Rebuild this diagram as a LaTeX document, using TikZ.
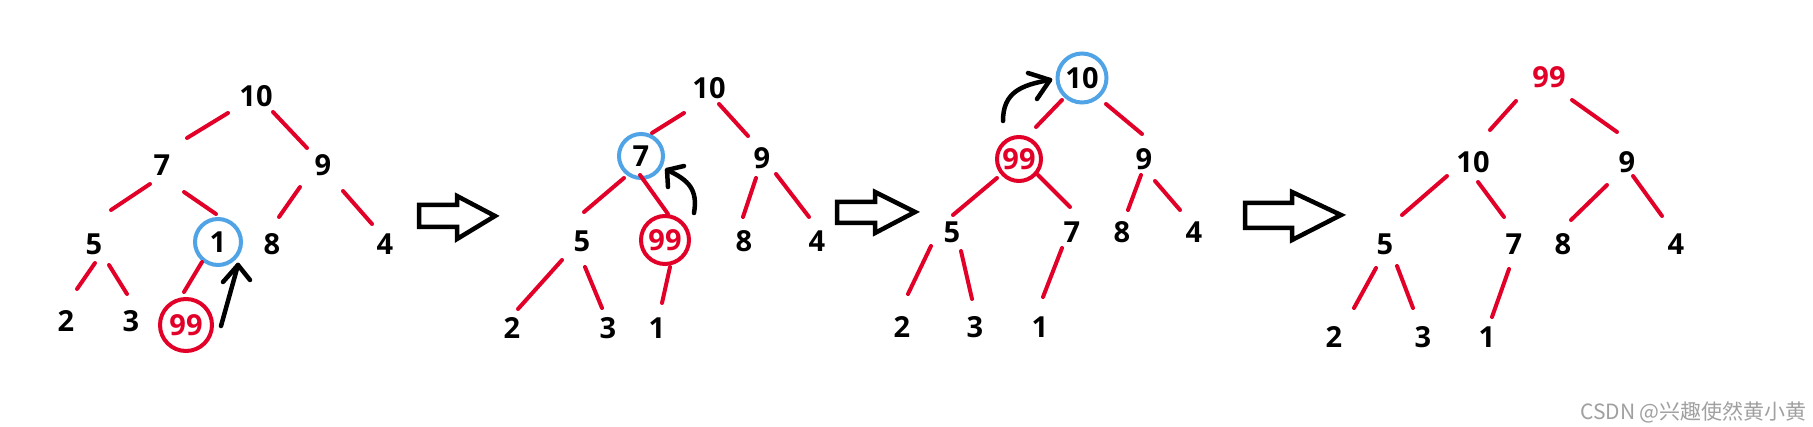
\documentclass[tikz,border=0pt]{standalone}
\usepackage{fontspec}
\setmainfont{Open Sans}
\newfontfamily\cjk{Noto Sans CJK SC}
\usetikzlibrary{calc}
\definecolor{hred}{RGB}{226,0,40}
\definecolor{hblue}{RGB}{80,164,230}
\definecolor{wmgray}{RGB}{160,160,160}
\tikzset{
 num/.style={font=\fontsize{29}{30}\selectfont\bfseries, inner sep=0pt, text=black},
 hot/.style={num, text=hred},
 bluering/.style={circle, draw=hblue, line width=4pt, minimum size=#1},
 redring/.style={circle, draw=hred, line width=4pt, minimum size=#1},
 edge/.style={draw=hred, line width=4pt, line cap=round},
 pointer/.style={draw=black, line width=4.5pt, line cap=round, line join=round},
 bigarrow/.style={draw=black, line width=4.5pt, fill=white, line join=miter},
}
\newcommand\hedge[4]{\draw[edge] ([shift={(#2)}]#1.center) -- ([shift={(#4)}]#3.center);}
\begin{document}
\begin{tikzpicture}[x=1pt,y=-1pt]
\fill[white] (0,0) rectangle (1813,427);
\useasboundingbox (0,0) rectangle (1813,427);

% ---------- panel 1 ----------
\node[num] (p1-10) at (256,96) {10};
\node[num] (p1-7) at (162,165) {7};
\node[num] (p1-9) at (323,165) {9};
\node[num] (p1-5) at (94,244) {5};
\node[num, bluering=46pt] (p1-1) at (218,242) {1};
\node[num] (p1-8) at (272,244) {8};
\node[num] (p1-4) at (385,244) {4};
\node[num] (p1-2) at (66,321) {2};
\node[num] (p1-3) at (131,321) {3};
\node[hot, redring=52pt] (p1-99) at (186,325) {99};
\hedge{p1-10}{-28,17}{p1-7}{25,-27}
\hedge{p1-10}{17,16}{p1-9}{-16,-17}
\hedge{p1-7}{-12,19}{p1-5}{17,-34}
\hedge{p1-7}{22,27}{p1-1}{-2,-28}
\hedge{p1-9}{-23,22}{p1-8}{7,-27}
\hedge{p1-9}{20,26}{p1-4}{-13,-20}
\hedge{p1-5}{1,19}{p1-2}{11,-32}
\hedge{p1-5}{15,21}{p1-3}{-4,-27}
\hedge{p1-1}{-16,20}{p1-99}{-2,-33}
\coordinate (a1s) at ([shift={(35,1)}]p1-99.center);
\coordinate (a1e) at ([shift={(20,23)}]p1-1.center);
\draw[pointer] (a1s) -- (a1e);
\draw[pointer] ($(a1e)+(-15,17)$) -- (a1e) -- ($(a1e)+(12,15)$);

\draw[bigarrow] (419,205) -- (457,205) -- (457,196) -- (495,216) -- (457,239) -- (457,227) -- (419,227) -- cycle;

% ---------- panel 2 ----------
\node[num] (p2-10) at (709,88) {10};
\node[num, bluering=44pt] (p2-7) at (641,156) {7};
\node[num] (p2-9) at (762,158) {9};
\node[num] (p2-5) at (582,241) {5};
\node[hot, redring=48pt] (p2-99) at (665,240) {99};
\node[num] (p2-8) at (744,241) {8};
\node[num] (p2-4) at (817,241) {4};
\node[num] (p2-2) at (512,328) {2};
\node[num] (p2-3) at (608,328) {3};
\node[num] (p2-1) at (657,328) {1};
\hedge{p2-10}{-25,25}{p2-7}{11,-23}
\hedge{p2-10}{10,16}{p2-9}{-14,-22}
\hedge{p2-7}{-17,22}{p2-5}{2,-29}
\hedge{p2-7}{-1,19}{p2-99}{3,-26}
\hedge{p2-9}{-6,20}{p2-8}{-1,-24}
\hedge{p2-9}{14,16}{p2-4}{-8,-24}
\hedge{p2-5}{-20,19}{p2-2}{6,-19}
\hedge{p2-5}{3,26}{p2-3}{-6,-20}
\hedge{p2-99}{5,27}{p2-1}{5,-25}
\coordinate (a2s) at ([shift={(29,-27)}]p2-99.center);
\coordinate (a2e) at ([shift={(26,14)}]p2-7.center);
\draw[pointer] (a2s) .. controls ($(a2s)+(4,-23)$) and ($(a2e)+(22,10)$) .. (a2e);
\draw[pointer] ($(a2e)+(17,-4)$) -- (a2e) -- ($(a2e)+(1,17)$);

\draw[bigarrow] (837,202) -- (875,202) -- (875,192) -- (915,212) -- (875,233) -- (875,223) -- (837,223) -- cycle;

% ---------- panel 3 ----------
\node[num, bluering=49pt] (p3-10) at (1082,78) {10};
\node[hot, redring=44pt] (p3-99) at (1019,159) {99};
\node[num] (p3-9) at (1144,159) {9};
\node[num] (p3-5) at (952,232) {5};
\node[num] (p3-7) at (1072,232) {7};
\node[num] (p3-8) at (1122,232) {8};
\node[num] (p3-4) at (1194,232) {4};
\node[num] (p3-2) at (902,327) {2};
\node[num] (p3-3) at (975,327) {3};
\node[num] (p3-1) at (1040,327) {1};
\hedge{p3-10}{-20,22}{p3-99}{17,-32}
\hedge{p3-10}{24,26}{p3-9}{-2,-25}
\hedge{p3-99}{-22,19}{p3-5}{1,-17}
\hedge{p3-99}{19,16}{p3-7}{-2,-25}
\hedge{p3-9}{-3,16}{p3-8}{6,-22}
\hedge{p3-9}{11,22}{p3-4}{-14,-22}
\hedge{p3-5}{-21,14}{p3-2}{6,-33}
\hedge{p3-5}{9,19}{p3-3}{-3,-28}
\hedge{p3-7}{-10,16}{p3-1}{3,-30}
\coordinate (a3s) at ([shift={(-16,-38)}]p3-99.center);
\coordinate (a3e) at ([shift={(-32,2)}]p3-10.center);
\draw[pointer] (a3s) .. controls ($(a3s)+(0,-28)$) and ($(a3e)+(-30,5)$) .. (a3e);
\draw[pointer] ($(a3e)+(-22,-7)$) -- (a3e) -- ($(a3e)+(-13,19)$);

\draw[bigarrow] (1245,203) -- (1292,203) -- (1292,192) -- (1341,215) -- (1292,240) -- (1292,228) -- (1245,228) -- cycle;

% ---------- panel 4 ----------
\node[hot] (p4-99) at (1549,77) {99};
\node[num] (p4-10) at (1473,162) {10};
\node[num] (p4-9) at (1627,162) {9};
\node[num] (p4-5) at (1385,244) {5};
\node[num] (p4-7) at (1514,244) {7};
\node[num] (p4-8) at (1563,244) {8};
\node[num] (p4-4) at (1676,244) {4};
\node[num] (p4-2) at (1334,337) {2};
\node[num] (p4-3) at (1423,337) {3};
\node[num] (p4-1) at (1487,337) {1};
\hedge{p4-99}{-33,24}{p4-10}{17,-32}
\hedge{p4-99}{23,23}{p4-9}{-10,-30}
\hedge{p4-10}{-26,14}{p4-5}{17,-29}
\hedge{p4-10}{5,20}{p4-7}{-10,-27}
\hedge{p4-9}{-20,23}{p4-8}{8,-24}
\hedge{p4-9}{6,14}{p4-4}{-14,-28}
\hedge{p4-5}{-9,24}{p4-2}{20,-29}
\hedge{p4-5}{12,22}{p4-3}{-10,-29}
\hedge{p4-7}{-5,25}{p4-1}{5,-20}

\node[anchor=east, inner sep=0pt, text=wmgray, font=\cjk\fontsize{21}{22}\selectfont] (wm) at (1807,412) {CSDN @兴趣使然黄小黄};
\end{tikzpicture}
\end{document}
